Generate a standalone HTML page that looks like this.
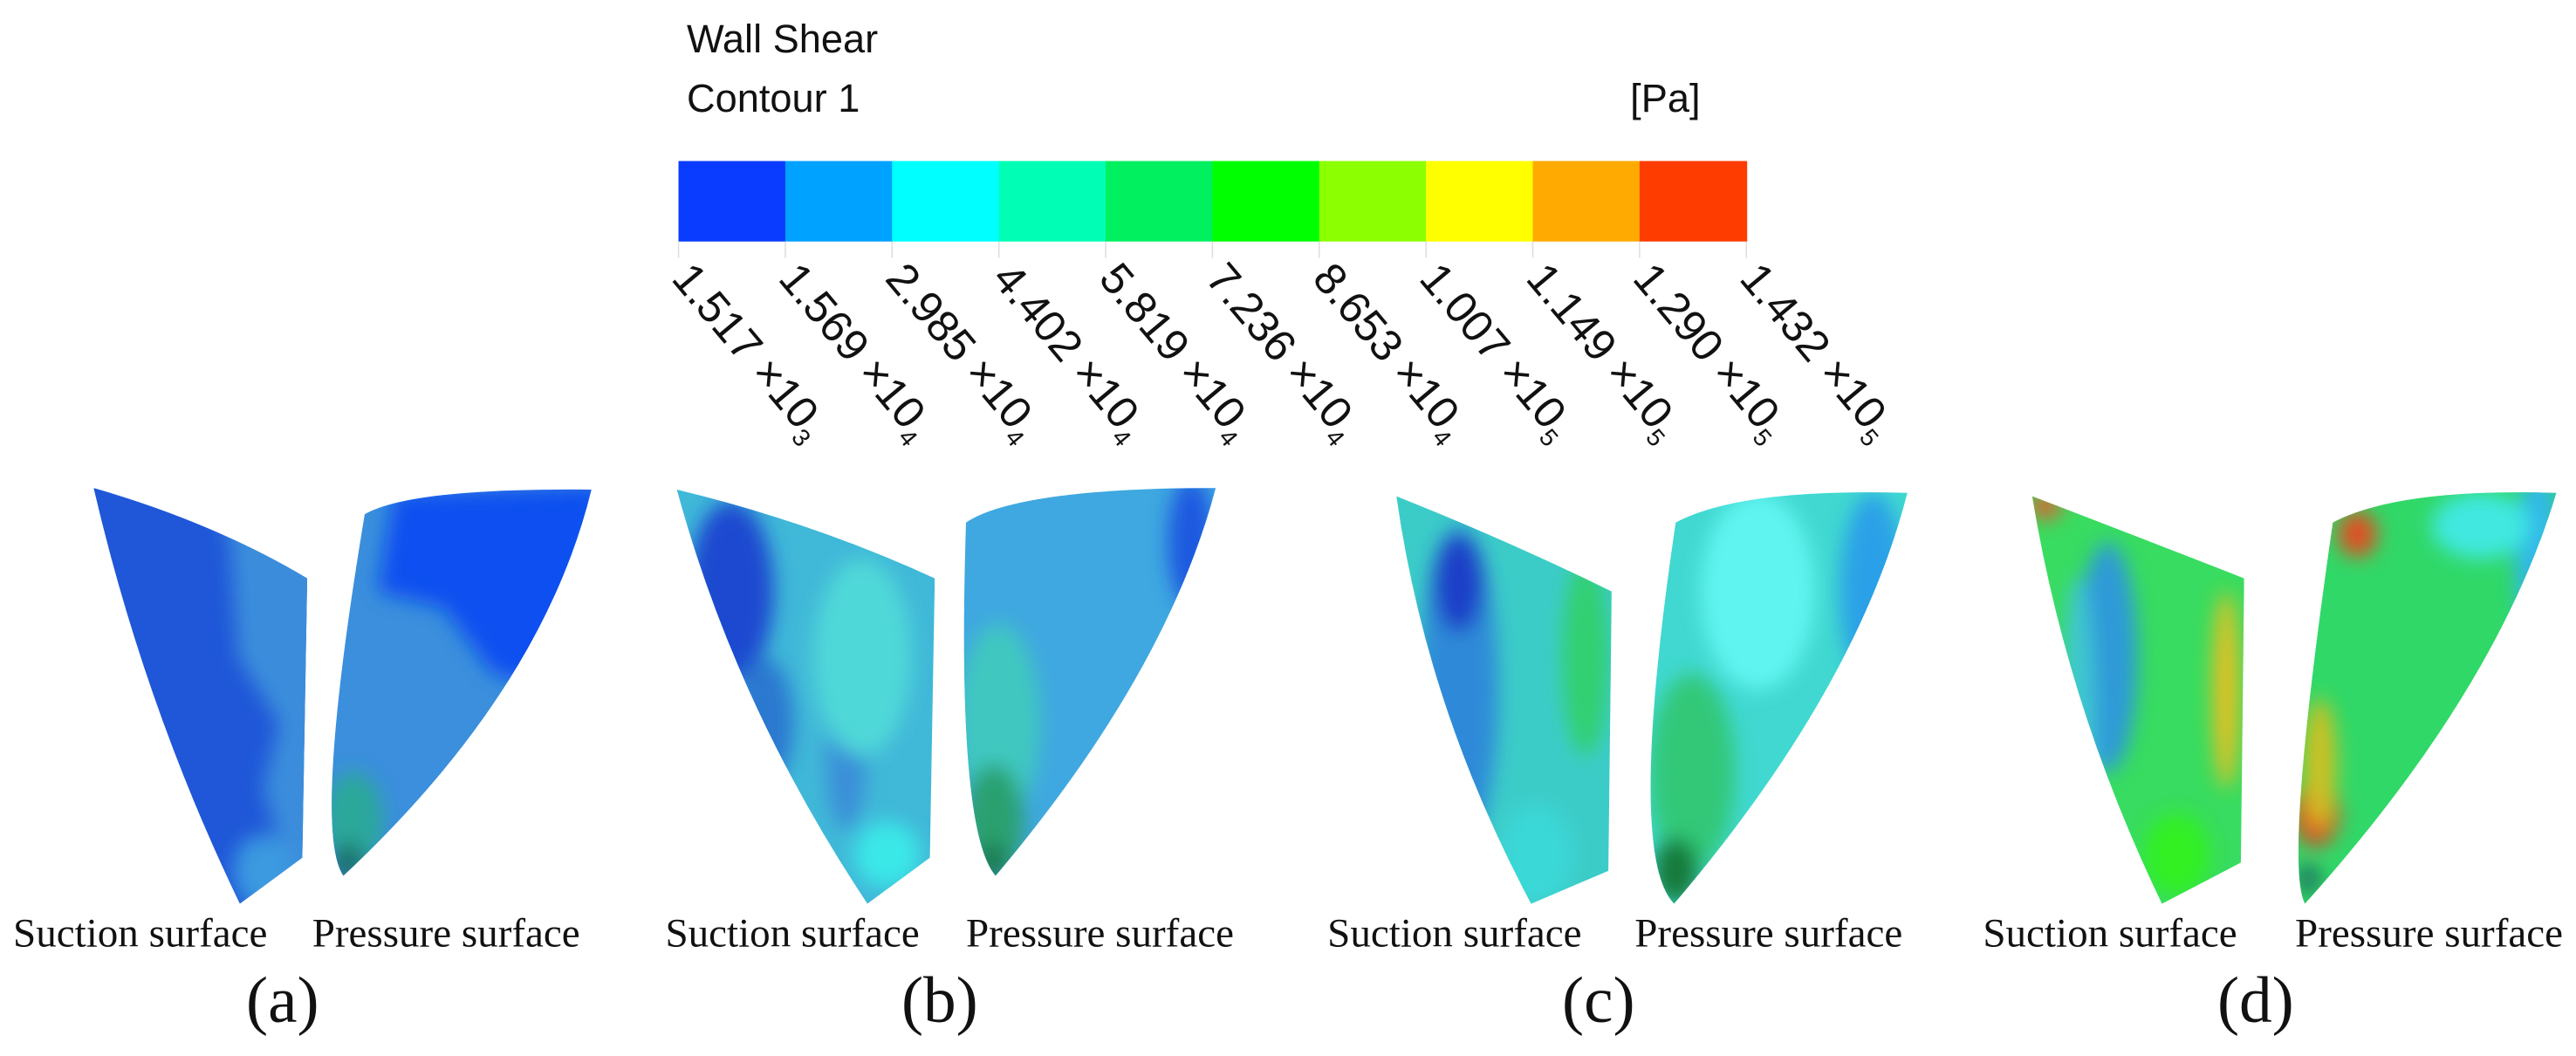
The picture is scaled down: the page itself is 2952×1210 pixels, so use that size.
<!DOCTYPE html>
<html><head><meta charset="utf-8"><style>
html,body{margin:0;padding:0;background:#fff;width:2952px;height:1210px;overflow:hidden}
svg{display:block}
.t{font-family:"Liberation Sans",sans-serif;fill:#111}
.s{font-family:"Liberation Serif",serif;fill:#111}
</style></head><body>
<svg id="fig" width="2952" height="1210" viewBox="0 0 1568 642.7" preserveAspectRatio="none" xmlns="http://www.w3.org/2000/svg">
<defs>
<filter id="bl" x="-30%" y="-30%" width="160%" height="160%"><feGaussianBlur stdDeviation="6"/></filter>
<clipPath id="aS"><path d="M57,297 Q130,318 187,352 L184,522 L146,550 Q88,430 57,297 Z"/></clipPath>
<clipPath id="aP"><path d="M222,313 Q250,297 360,298 Q330,420 209,533 Q190,505 222,313 Z"/></clipPath>
<clipPath id="bS"><path d="M412,298 Q495,318 569,352 L566,522 L528,550 Q448,430 412,298 Z"/></clipPath>
<clipPath id="bP"><path d="M588,318 Q620,297 740,297 Q710,410 606,533 Q582,505 588,318 Z"/></clipPath>
<clipPath id="cS"><path d="M850,302 Q920,330 981,360 L979,530 L932,550 Q868,430 850,302 Z"/></clipPath>
<clipPath id="cP"><path d="M1020,318 Q1060,297 1161,300 Q1130,420 1019,550 Q990,520 1020,318 Z"/></clipPath>
<clipPath id="dS"><path d="M1237,302 Q1310,330 1366,352 L1364,525 L1316,550 Q1258,430 1237,302 Z"/></clipPath>
<clipPath id="dP"><path d="M1420,318 Q1460,297 1556,300 Q1520,420 1403,550 Q1390,525 1420,318 Z"/></clipPath>
</defs>

<text class="t" x="418" y="32" font-size="24">Wall Shear</text>
<text class="t" x="418" y="68" font-size="24">Contour 1</text>
<text class="t" x="1035" y="68" font-size="24" text-anchor="end">[Pa]</text>
<g id="bar"></g>
<g id="ticks"></g>

<g clip-path="url(#aS)">
<rect x="40" y="290" width="160" height="270" fill="#1f57d8"/>
<g filter="url(#bl)">
<path d="M130,300 L200,330 L200,560 L150,560 L172,520 L160,480 L170,440 L145,400 L140,330 Z" fill="#3a8ddc"/>
<ellipse cx="160" cy="530" rx="18" ry="22" fill="#3a9ae0"/>
</g></g>
<g clip-path="url(#aP)">
<rect x="180" y="290" width="190" height="260" fill="#3b8fdc"/>
<g filter="url(#bl)">
<path d="M240,300 L370,295 L340,420 L300,410 L270,370 L230,360 Z" fill="#0a4ff0"/>
<ellipse cx="215" cy="500" rx="18" ry="30" fill="#2aa89a"/>
<ellipse cx="212" cy="525" rx="10" ry="12" fill="#1f6f6a"/>
</g></g>

<g clip-path="url(#bS)">
<rect x="400" y="290" width="180" height="270" fill="#40b8d8"/>
<g filter="url(#bl)">
<ellipse cx="445" cy="360" rx="26" ry="55" fill="#1a48d0"/>
<ellipse cx="465" cy="440" rx="18" ry="40" fill="#2a78d0"/>
<ellipse cx="515" cy="460" rx="12" ry="45" fill="#3a8ed8"/>
<ellipse cx="525" cy="400" rx="30" ry="60" fill="#50d8d8"/>
<ellipse cx="540" cy="520" rx="20" ry="20" fill="#3be8e8"/>
</g></g>
<g clip-path="url(#bP)">
<rect x="580" y="290" width="170" height="260" fill="#3fa8e0"/>
<g filter="url(#bl)">
<ellipse cx="725" cy="330" rx="14" ry="40" fill="#1a58e0"/>
<ellipse cx="608" cy="440" rx="25" ry="60" fill="#40c8c0"/>
<ellipse cx="605" cy="500" rx="18" ry="35" fill="#2aa070"/>
<ellipse cx="604" cy="525" rx="10" ry="12" fill="#1f7a50"/>
</g></g>

<g clip-path="url(#cS)">
<rect x="840" y="290" width="150" height="270" fill="#3cccc8"/>
<g filter="url(#bl)">
<ellipse cx="888" cy="420" rx="24" ry="100" fill="#2f8ad8"/>
<ellipse cx="888" cy="355" rx="15" ry="30" fill="#1a40c8"/>
<ellipse cx="965" cy="400" rx="14" ry="60" fill="#30d070"/>
<ellipse cx="935" cy="520" rx="22" ry="30" fill="#3ad8d8"/>
</g></g>
<g clip-path="url(#cP)">
<rect x="980" y="290" width="190" height="260" fill="#40d8d0"/>
<g filter="url(#bl)">
<ellipse cx="1070" cy="360" rx="35" ry="60" fill="#60f4f0"/>
<ellipse cx="1140" cy="360" rx="20" ry="60" fill="#2aa0e8"/>
<ellipse cx="1030" cy="470" rx="26" ry="60" fill="#30c878"/>
<ellipse cx="1020" cy="530" rx="14" ry="20" fill="#157a3a"/>
</g></g>

<g clip-path="url(#dS)">
<rect x="1230" y="290" width="150" height="270" fill="#38dc60"/>
<g filter="url(#bl)">
<ellipse cx="1283" cy="400" rx="18" ry="70" fill="#2f9ad8"/>
<ellipse cx="1265" cy="440" rx="10" ry="90" fill="#40c8d0"/>
<ellipse cx="1355" cy="420" rx="8" ry="60" fill="#e8c020"/>
<ellipse cx="1245" cy="308" rx="10" ry="8" fill="#e06030"/>
<ellipse cx="1325" cy="520" rx="20" ry="25" fill="#30f020"/>
</g></g>
<g clip-path="url(#dP)">
<rect x="1380" y="290" width="190" height="260" fill="#30d868"/>
<g filter="url(#bl)">
<ellipse cx="1545" cy="340" rx="14" ry="55" fill="#30b8e8"/>
<ellipse cx="1510" cy="320" rx="30" ry="20" fill="#40e8e0"/>
<ellipse cx="1435" cy="325" rx="12" ry="14" fill="#e05020"/>
<ellipse cx="1410" cy="495" rx="14" ry="20" fill="#e04020"/>
<ellipse cx="1412" cy="465" rx="10" ry="40" fill="#d0c020"/>
<ellipse cx="1405" cy="535" rx="8" ry="10" fill="#207a60"/>
</g></g>

<g>
<text class="s" x="8" y="576" font-size="25">Suction surface</text>
<text class="s" x="190" y="576" font-size="25">Pressure surface</text>
<text class="s" x="405" y="576" font-size="25">Suction surface</text>
<text class="s" x="588" y="576" font-size="25">Pressure surface</text>
<text class="s" x="808" y="576" font-size="25">Suction surface</text>
<text class="s" x="995" y="576" font-size="25">Pressure surface</text>
<text class="s" x="1207" y="576" font-size="25">Suction surface</text>
<text class="s" x="1397" y="576" font-size="25">Pressure surface</text>
<text class="s" x="172" y="622" font-size="40" text-anchor="middle">(a)</text>
<text class="s" x="572" y="622" font-size="40" text-anchor="middle">(b)</text>
<text class="s" x="973" y="622" font-size="40" text-anchor="middle">(c)</text>
<text class="s" x="1373" y="622" font-size="40" text-anchor="middle">(d)</text>
</g>
</svg>
<script>
const binColors = ['#0a3cff','#00a2ff','#00ffff','#00ffb4','#00f060','#00ff00','#8cff00','#ffff00','#ffaa00','#ff3c00'];
const tickMantissa = ['1.517','1.569','2.985','4.402','5.819','7.236','8.653','1.007','1.149','1.290','1.432'];
const tickExponent = ['3','4','4','4','4','4','4','5','5','5','5'];
const NS='http://www.w3.org/2000/svg';
const barX0=413, barX1=1063, barY=98, barH=49;
const bw=(barX1-barX0)/binColors.length;
const bar=document.getElementById('bar');
binColors.forEach((c,i)=>{
  const r=document.createElementNS(NS,'rect');
  r.setAttribute('x',barX0+i*bw);r.setAttribute('y',barY);
  r.setAttribute('width',bw+0.5);r.setAttribute('height',barH);r.setAttribute('fill',c);
  
  
  bar.appendChild(r);
});
const tk=document.getElementById('ticks');
tickMantissa.forEach((m,i)=>{
  const x=barX0+i*bw;
  const ln=document.createElementNS(NS,'line');
  ln.setAttribute('x1',x);ln.setAttribute('x2',x);ln.setAttribute('y1',barY+barH);ln.setAttribute('y2',barY+barH+10);
  ln.setAttribute('stroke','#ddd');ln.setAttribute('stroke-width','0.8');
  
  
  tk.appendChild(ln);
  const t=document.createElementNS(NS,'text');
  t.setAttribute('class','t');t.setAttribute('font-size','27');
  t.setAttribute('transform','translate('+(x-5)+',170) rotate(50)');
  
  
  t.innerHTML=m+' ×10<tspan font-size="15" dy="6">'+tickExponent[i]+'</tspan>';
  tk.appendChild(t);
});
</script>
</body></html>
